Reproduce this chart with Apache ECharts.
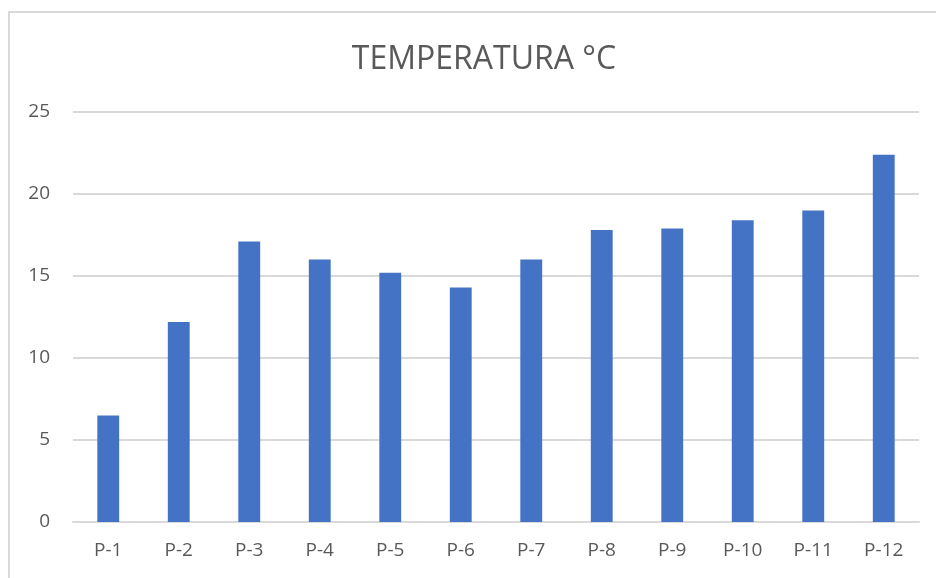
<!DOCTYPE html>
<html>
<head>
<meta charset="utf-8">
<script src="https://cdn.jsdelivr.net/npm/echarts@6/dist/echarts.min.js"></script>
<style>
  html, body { margin: 0; padding: 0; background: #fff; }
  #chart { width: 936px; height: 578px; }
</style>
</head>
<body>
<div id="chart"></div>
<script>
// values
const categories = ['P-1', 'P-2', 'P-3', 'P-4', 'P-5', 'P-6', 'P-7', 'P-8', 'P-9', 'P-10', 'P-11', 'P-12']
const temperatures = [6.5, 12.2, 17.1, 16.0, 15.2, 14.3, 16.0, 17.8, 17.9, 18.4, 19.0, 22.4]
const yTicks = [0, 5, 10, 15, 20, 25]

const textColor = '#595959'
const font = 'Open Sans'

const chart = echarts.init(document.getElementById('chart'), null, { renderer: 'canvas' })

chart.setOption({
  animation: false,
  backgroundColor: '#fff',
  title: {
    text: 'TEMPERATURA °C',
    left: 479,
    top: 36,
    textAlign: 'center',
    textStyle: {
      color: textColor,
      fontFamily: font,
      fontWeight: 'normal',
      fontSize: 32,
      lineHeight: 38
    }
  },
  graphic: [
    {
      type: 'rect',
      shape: { x: 9, y: 12, width: 940, height: 580 },
      style: { fill: 'none', stroke: '#d9d9d9', lineWidth: 2 },
      silent: true
    }
  ],
  grid: {
    left: 73,
    right: 17,
    top: 112,
    bottom: 56,
    containLabel: false
  },
  xAxis: {
    type: 'category',
    data: categories,
    axisTick: { show: false },
    axisLine: { lineStyle: { color: '#d9d9d9', width: 2 } },
    axisLabel: {
      color: textColor,
      fontFamily: font,
      fontSize: 19,
      margin: 19
    }
  },
  yAxis: {
    type: 'value',
    min: yTicks[0],
    max: yTicks[yTicks.length - 1],
    interval: 5,
    axisLine: { show: false },
    axisTick: { show: false },
    splitLine: { lineStyle: { color: '#d9d9d9', width: 2 } },
    axisLabel: {
      color: textColor,
      fontFamily: font,
      fontSize: 19,
      margin: 23
    }
  },
  series: [
    {
      type: 'bar',
      data: temperatures,
      barWidth: '31%',
      itemStyle: { color: '#4472C4' }
    }
  ]
})
</script>
</body>
</html>
